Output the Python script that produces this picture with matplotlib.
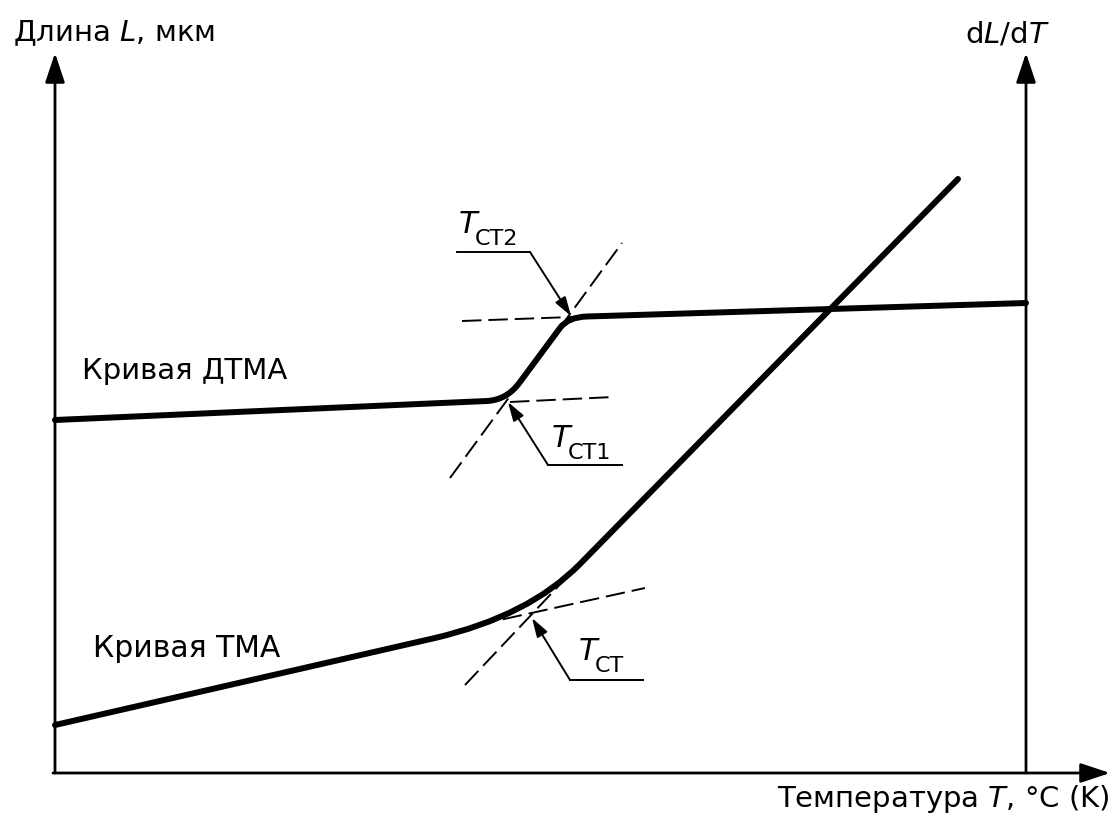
import matplotlib
matplotlib.use("Agg")
import matplotlib.pyplot as plt
from matplotlib.path import Path
from matplotlib.patches import PathPatch

plt.rcParams['font.family'] = ['DejaVu Sans']
plt.rcParams['mathtext.fontset'] = 'dejavusans'
plt.rcParams['lines.scale_dashes'] = False

#- Scheme geometry (x = temperature, y = length), origin in the axes corner
axis_top = 720
axis_right = 1055
dtma_axis_x = 971

# TMA curve: start, (bend start, corner, bend end), end
tma_start = (0, 48)
tma_bend = [(380, 135), (474, 157), (525, 209)]
tma_end = (903, 594)

# DTMA curve: start, two rounded corners, end
dtma_start = (0, 353)
dtma_bend1 = [(432, 372), (452, 373), (465, 391)]
dtma_bend2 = [(505, 445), (513, 456), (532, 456.5)]
dtma_end = (971, 470)

# dashed tangents
tangents = [
    [(395, 295), (567, 530)],   # DTMA steep part
    [(455, 371), (558, 376)],   # DTMA below transition
    [(407, 452), (517, 456)],   # DTMA above transition
    [(410, 88), (512, 196)],    # TMA steep part
    [(422, 148), (590, 185)],   # TMA below transition
]

# leaders: arrow tip, knee, shelf end, label position
leaders = {
    "СТ2": dict(tip=(516, 457), knee=(475, 521), shelf=(402, 521), text=(404, 540)),
    "СТ1": dict(tip=(453, 371), knee=(493, 308), shelf=(567, 308), text=(497, 326)),
    "СТ": dict(tip=(477, 155), knee=(515, 93), shelf=(588, 93), text=(524, 113)),
}


def curve_path(start, bends, end):
    verts = [start]
    codes = [Path.MOVETO]
    for b in bends:
        verts += [b[0], b[1], b[2]]
        codes += [Path.LINETO, Path.CURVE3, Path.CURVE3]
    verts.append(end)
    codes.append(Path.LINETO)
    return Path(verts, codes)


fig = plt.figure(figsize=(11.15, 8.23), dpi=100)
ax = fig.add_axes([0, 0, 1, 1])
ax.set_xlim(-55, 1060)
ax.set_ylim(-50, 773)
ax.axis('off')

#- axes with arrows
ax_arrow = dict(arrowstyle='-|>,head_length=1.8,head_width=0.6', mutation_scale=10,
                lw=2.0, color='black', shrinkA=0, shrinkB=0)
ax.annotate('', xy=(0, axis_top), xytext=(0, 0), arrowprops=ax_arrow)
ax.annotate('', xy=(dtma_axis_x, axis_top), xytext=(dtma_axis_x, 0), arrowprops=ax_arrow)
ax.annotate('', xy=(axis_right, 0), xytext=(-2, 0), arrowprops=ax_arrow)

#- curves
for p in [curve_path(tma_start, [tma_bend], tma_end),
          curve_path(dtma_start, [dtma_bend1, dtma_bend2], dtma_end)]:
    ax.add_patch(PathPatch(p, fill=False, lw=4.3, edgecolor='black', capstyle='round'))

#- tangents
for t in tangents:
    ax.plot([t[0][0], t[1][0]], [t[0][1], t[1][1]], color='black', lw=1.4, dashes=(14, 5))

#- leaders
lead_arrow = dict(arrowstyle='-|>,head_length=1.15,head_width=0.36', mutation_scale=10,
                  lw=1.4, color='black', shrinkA=0, shrinkB=0)
for name, l in leaders.items():
    ax.plot([l['shelf'][0], l['knee'][0]], [l['shelf'][1], l['knee'][1]], color='black', lw=1.4)
    ax.annotate('', xy=l['tip'], xytext=l['knee'], arrowprops=lead_arrow)
    x, y = l['text']
    ax.text(x, y, 'T', fontsize=22, style='italic', ha='left', va='baseline')
    ax.text(x + 16, y - 12, name, fontsize=16, ha='left', va='baseline')

#- labels
ax.text(-42, 732, r'Длина $L$, мкм', fontsize=21, ha='left', va='baseline')
ax.text(952, 731, r'd$L$/d$T$', fontsize=21, ha='center', va='baseline')
ax.text(1055, -34, r'Температура $T$, °C (K)', fontsize=21, ha='right', va='baseline')
ax.text(27, 394, 'Кривая ДТМА', fontsize=21, ha='left', va='baseline')
ax.text(38, 116, 'Кривая ТМА', fontsize=21.5, ha='left', va='baseline')

fig.savefig('out.png', dpi=100)
